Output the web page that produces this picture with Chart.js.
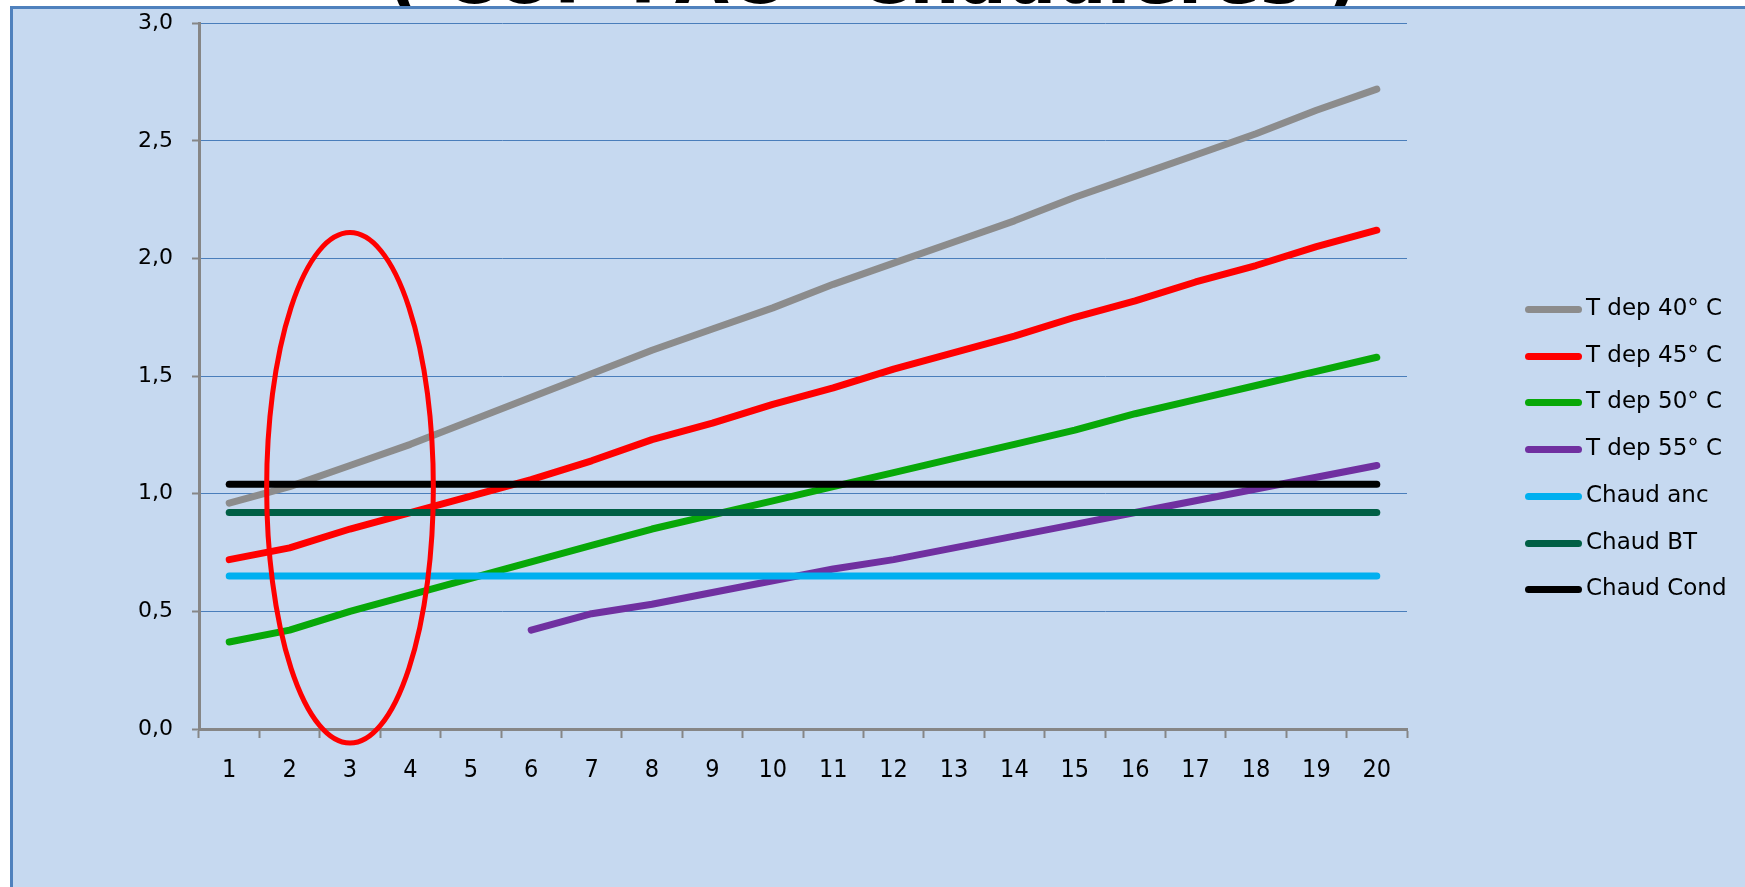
<!DOCTYPE html>
<html>
<head>
<meta charset="utf-8">
<script src="https://cdn.jsdelivr.net/npm/chart.js@4.4.1/dist/chart.umd.min.js"></script>
<style>
  html, body { margin: 0; padding: 0; background: #fff; width: 1745px; height: 887px; overflow: hidden; }
  #title { position: absolute; left: 0; top: -56px; width: 1745px; text-align: center; font: bold 70px "DejaVu Sans"; line-height: 70px; color: #000; white-space: nowrap; }
  #frame { position: absolute; left: 10px; top: 6px; width: 1800px; height: 950px; background: #c6d9f0; border-left: 3px solid #4f81bd; border-top: 3px solid #4f81bd; }
  #chart { position: absolute; left: 0; top: -9px; }
  #legend { position: absolute; left: 1525px; top: 294px; }
  #legend .item { position: absolute; left: 0; height: 30px; width: 220px; }
  #legend .sw { position: absolute; left: 0; top: 12px; width: 57px; height: 7px; border-radius: 4px; }
  #legend .lbl { position: absolute; left: 61px; top: 0; line-height: 30px; font: 23px "DejaVu Sans"; color: #000; white-space: nowrap; }
</style>
</head>
<body>
<div id="title">( COP PAC - Chaudières )</div>
<div id="frame"></div>
<canvas id="chart" width="1745" height="896"></canvas>
<div id="legend"></div>
<script>
// categories (axe X)
const categories = ["1", "2", "3", "4", "5", "6", "7", "8", "9", "10",
                    "11", "12", "13", "14", "15", "16", "17", "18", "19", "20"];

// séries
const tdep40 = [0.96, 1.03, 1.12, 1.21, 1.31, 1.41, 1.51, 1.61, 1.70, 1.79,
                1.89, 1.98, 2.07, 2.16, 2.26, 2.35, 2.44, 2.53, 2.63, 2.72];
const tdep45 = [0.72, 0.77, 0.85, 0.92, 0.99, 1.06, 1.14, 1.23, 1.30, 1.38,
                1.45, 1.53, 1.60, 1.67, 1.75, 1.82, 1.90, 1.97, 2.05, 2.12];
const tdep50 = [0.37, 0.42, 0.50, 0.57, 0.64, 0.71, 0.78, 0.85, 0.91, 0.97,
                1.03, 1.09, 1.15, 1.21, 1.27, 1.34, 1.40, 1.46, 1.52, 1.58];
const tdep55 = [null, null, null, null, null, 0.42, 0.49, 0.53, 0.58, 0.63,
                0.68, 0.72, 0.77, 0.82, 0.87, 0.92, 0.97, 1.02, 1.07, 1.12];
const chaudAnc = [0.65, 0.65, 0.65, 0.65, 0.65, 0.65, 0.65, 0.65, 0.65, 0.65,
                  0.65, 0.65, 0.65, 0.65, 0.65, 0.65, 0.65, 0.65, 0.65, 0.65];
const chaudBT = [0.92, 0.92, 0.92, 0.92, 0.92, 0.92, 0.92, 0.92, 0.92, 0.92,
                 0.92, 0.92, 0.92, 0.92, 0.92, 0.92, 0.92, 0.92, 0.92, 0.92];
const chaudCond = [1.04, 1.04, 1.04, 1.04, 1.04, 1.04, 1.04, 1.04, 1.04, 1.04,
                   1.04, 1.04, 1.04, 1.04, 1.04, 1.04, 1.04, 1.04, 1.04, 1.04];

const seriesNames = ["T dep 40° C", "T dep 45° C", "T dep 50° C", "T dep 55° C",
                     "Chaud anc", "Chaud BT", "Chaud Cond"];
const seriesData = [tdep40, tdep45, tdep50, tdep55, chaudAnc, chaudBT, chaudCond];
const seriesColors = ["#8c8c8c", "#ff0000", "#08a808", "#7030a0", "#00b0f0", "#005f45", "#000000"];

// ellipse rouge autour de la catégorie "3" (unités des axes)
const ellipseCategory = 2;      // index de "3"
const ellipseCenterY = 1.025;
const ellipseHalfWidth = 1.38;  // en catégories
const ellipseHalfHeight = 1.085;

const ellipsePlugin = {
    id: "ellipse",
    afterDatasetsDraw(chart) {
        const { ctx, scales: { x, y } } = chart;
        const cx = x.getPixelForValue(ellipseCategory);
        const cy = y.getPixelForValue(ellipseCenterY);
        const rx = x.getPixelForValue(ellipseCategory + ellipseHalfWidth) - cx;
        const ry = y.getPixelForValue(ellipseCenterY - ellipseHalfHeight) - cy;
        ctx.save();
        ctx.beginPath();
        ctx.ellipse(cx, cy, rx, ry, 0, 0, Math.PI * 2);
        ctx.strokeStyle = "#ff0000";
        ctx.lineWidth = 5;
        ctx.stroke();
        ctx.restore();
    }
};

const datasets = seriesNames.map((name, i) => ({
    label: name,
    data: seriesData[i],
    borderColor: seriesColors[i],
    backgroundColor: seriesColors[i],
    borderWidth: 7,
    borderCapStyle: "round",
    borderJoinStyle: "round",
    pointRadius: 0,
    tension: 0,
    fill: false,
    order: seriesNames.length - i   // les dernières séries au-dessus, comme Excel
}));

const ctx = document.getElementById("chart").getContext("2d");
window.myChart = new Chart(ctx, {
    type: "line",
    data: { labels: categories, datasets: datasets },
    options: {
        responsive: false,
        animation: false,
        layout: { padding: { top: 0, right: 338, bottom: 0, left: 0 } },
        plugins: {
            legend: { display: false },
            tooltip: { enabled: false }
        },
        scales: {
            x: {
                offset: true,
                grid: { offset: true, drawOnChartArea: false, drawTicks: true, tickLength: 9, tickColor: "#868686", tickWidth: 2 },
                border: { color: "#868686", width: 3 },
                ticks: {
                    color: "#000",
                    font: { family: "'DejaVu Sans Condensed', 'Liberation Sans Narrow', 'DejaVu Sans'", size: 25 },
                    padding: 17,
                    maxRotation: 0,
                    autoSkip: false
                },
                afterFit: (s) => { s.height = 158; }
            },
            y: {
                min: 0,
                max: 3,
                ticks: {
                    stepSize: 0.5,
                    callback: (v) => v.toFixed(1).replace(".", ","),
                    color: "#000",
                    font: { family: "'DejaVu Sans'", size: 22 },
                    padding: 19
                },
                grid: { color: "#4a7ebb", lineWidth: 1, tickLength: 7, tickColor: "#868686", tickWidth: 2 },
                border: { color: "#868686", width: 3 },
                afterFit: (s) => { s.width = 199; }
            }
        }
    },
    plugins: [ellipsePlugin]
});

// légende
const legendBox = document.getElementById("legend");
seriesNames.forEach((name, i) => {
    const item = document.createElement("div");
    item.className = "item";
    item.style.top = (i * 46.7) + "px";
    const sw = document.createElement("span");
    sw.className = "sw";
    sw.style.background = seriesColors[i];
    const lbl = document.createElement("span");
    lbl.className = "lbl";
    lbl.textContent = name;
    item.appendChild(sw);
    item.appendChild(lbl);
    legendBox.appendChild(item);
});
</script>
</body>
</html>
